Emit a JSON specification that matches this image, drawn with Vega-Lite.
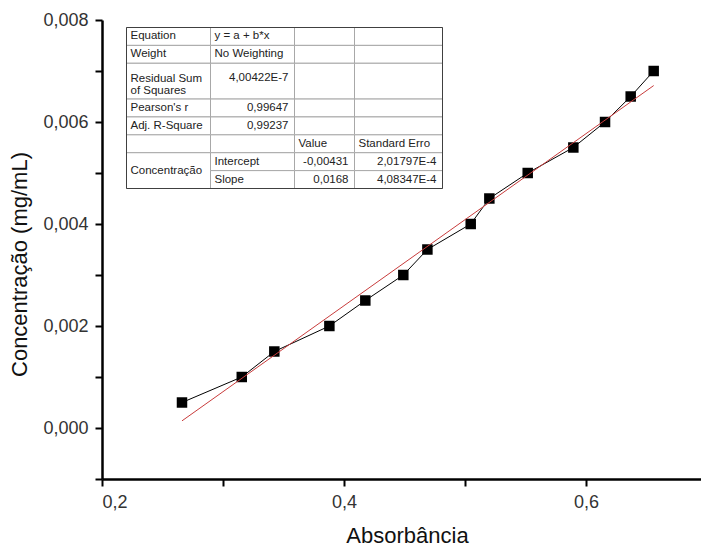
{
  "$schema": "https://vega.github.io/schema/vega-lite/v6.json",
  "width": 599,
  "height": 459,
  "autosize": {"type": "none"},
  "padding": {"left": 102, "top": 20, "right": 0, "bottom": 69},
  "background": "white",
  "config": {
    "view": {"stroke": null},
    "font": "Liberation Sans",
    "axis": {"grid": false}
  },
  "datasets": {
    "points": [
      {"absorbancia": 0.2661, "concentracao": 0.0005},
      {"absorbancia": 0.3155, "concentracao": 0.0010},
      {"absorbancia": 0.3424, "concentracao": 0.0015},
      {"absorbancia": 0.3879, "concentracao": 0.0020},
      {"absorbancia": 0.4176, "concentracao": 0.0025},
      {"absorbancia": 0.4490, "concentracao": 0.0030},
      {"absorbancia": 0.4689, "concentracao": 0.0035},
      {"absorbancia": 0.5047, "concentracao": 0.0040},
      {"absorbancia": 0.5201, "concentracao": 0.0045},
      {"absorbancia": 0.5518, "concentracao": 0.0050},
      {"absorbancia": 0.5895, "concentracao": 0.0055},
      {"absorbancia": 0.6157, "concentracao": 0.0060},
      {"absorbancia": 0.6369, "concentracao": 0.0065},
      {"absorbancia": 0.6559, "concentracao": 0.0070}
    ],
    "cells": [
      {"c0": 0, "c1": 1, "r0": 0, "r1": 1}, {"c0": 1, "c1": 2, "r0": 0, "r1": 1}, {"c0": 2, "c1": 3, "r0": 0, "r1": 1}, {"c0": 3, "c1": 4, "r0": 0, "r1": 1},
      {"c0": 0, "c1": 1, "r0": 1, "r1": 2}, {"c0": 1, "c1": 2, "r0": 1, "r1": 2}, {"c0": 2, "c1": 3, "r0": 1, "r1": 2}, {"c0": 3, "c1": 4, "r0": 1, "r1": 2},
      {"c0": 0, "c1": 1, "r0": 2, "r1": 4}, {"c0": 1, "c1": 2, "r0": 2, "r1": 4}, {"c0": 2, "c1": 3, "r0": 2, "r1": 4}, {"c0": 3, "c1": 4, "r0": 2, "r1": 4},
      {"c0": 0, "c1": 1, "r0": 4, "r1": 5}, {"c0": 1, "c1": 2, "r0": 4, "r1": 5}, {"c0": 2, "c1": 3, "r0": 4, "r1": 5}, {"c0": 3, "c1": 4, "r0": 4, "r1": 5},
      {"c0": 0, "c1": 1, "r0": 5, "r1": 6}, {"c0": 1, "c1": 2, "r0": 5, "r1": 6}, {"c0": 2, "c1": 3, "r0": 5, "r1": 6}, {"c0": 3, "c1": 4, "r0": 5, "r1": 6},
      {"c0": 0, "c1": 1, "r0": 6, "r1": 7}, {"c0": 1, "c1": 2, "r0": 6, "r1": 7}, {"c0": 2, "c1": 3, "r0": 6, "r1": 7}, {"c0": 3, "c1": 4, "r0": 6, "r1": 7},
      {"c0": 0, "c1": 1, "r0": 7, "r1": 9},
      {"c0": 1, "c1": 2, "r0": 7, "r1": 8}, {"c0": 2, "c1": 3, "r0": 7, "r1": 8}, {"c0": 3, "c1": 4, "r0": 7, "r1": 8},
      {"c0": 1, "c1": 2, "r0": 8, "r1": 9}, {"c0": 2, "c1": 3, "r0": 8, "r1": 9}, {"c0": 3, "c1": 4, "r0": 8, "r1": 9}
    ],
    "texts": [
      {"text": "Equation", "col": 0, "row": 0.5, "align": "left"},
      {"text": "y = a + b*x", "col": 1, "row": 0.5, "align": "left"},
      {"text": "Weight", "col": 0, "row": 1.5, "align": "left"},
      {"text": "No Weighting", "col": 1, "row": 1.5, "align": "left"},
      {"text": "Residual Sum", "col": 0, "row": 2.9, "align": "left"},
      {"text": "of Squares", "col": 0, "row": 3.55, "align": "left"},
      {"text": "4,00422E-7", "col": 1, "row": 2.83, "align": "right"},
      {"text": "Pearson's r", "col": 0, "row": 4.5, "align": "left"},
      {"text": "0,99647", "col": 1, "row": 4.5, "align": "right"},
      {"text": "Adj. R-Square", "col": 0, "row": 5.5, "align": "left"},
      {"text": "0,99237", "col": 1, "row": 5.5, "align": "right"},
      {"text": "Value", "col": 2, "row": 6.5, "align": "left"},
      {"text": "Standard Erro", "col": 3, "row": 6.5, "align": "left"},
      {"text": "Concentração", "col": 0, "row": 8, "align": "left"},
      {"text": "Intercept", "col": 1, "row": 7.5, "align": "left"},
      {"text": "-0,00431", "col": 2, "row": 7.5, "align": "right"},
      {"text": "2,01797E-4", "col": 3, "row": 7.5, "align": "right"},
      {"text": "Slope", "col": 1, "row": 8.5, "align": "left"},
      {"text": "0,0168", "col": 2, "row": 8.5, "align": "right"},
      {"text": "4,08347E-4", "col": 3, "row": 8.5, "align": "right"}
    ]
  },
  "layer": [
    {
      "data": {"name": "points"},
      "layer": [
        {
          "mark": {"type": "line", "color": "black", "strokeWidth": 1},
          "encoding": {
            "x": {
              "field": "absorbancia", "type": "quantitative",
              "scale": {"domain": [0.2, 0.695], "nice": false, "zero": false},
              "axis": {
                "values": [0.2, 0.3, 0.4, 0.5, 0.6],
                "labelExpr": "round(datum.value * 10) % 2 == 0 ? replace(format(datum.value, '.1f'), '.', ',') : ''",
                "tickSize": 7, "tickWidth": 2, "tickColor": "black",
                "domainColor": "black", "domainWidth": 2.5,
                "labelFontSize": 18, "labelColor": "#333", "labelPadding": 7,
                "title": "Absorbância", "titleFontSize": 22, "titleFontWeight": "normal",
                "titleColor": "#111", "titlePadding": 14, "titleX": 305,
                "encode": {"ticks": {"update": {"y2": {"signal": "round(datum.value * 10) % 2 == 0 ? 7 : 4"}}}}
              }
            },
            "y": {
              "field": "concentracao", "type": "quantitative",
              "scale": {"domain": [-0.001, 0.008], "nice": false, "zero": false},
              "axis": {
                "values": [-0.001, 0, 0.001, 0.002, 0.003, 0.004, 0.005, 0.006, 0.007, 0.008],
                "labelExpr": "round(datum.value * 1000) % 2 == 0 ? replace(format(datum.value, '.3f'), '.', ',') : ''",
                "tickSize": 7, "tickWidth": 2, "tickColor": "black",
                "domainColor": "black", "domainWidth": 2.5,
                "labelFontSize": 18, "labelColor": "#333", "labelPadding": 7,
                "title": "Concentração (mg/mL)", "titleFontSize": 22, "titleFontWeight": "normal",
                "titleColor": "#111", "titlePadding": 11, "titleY": 244,
                "encode": {"ticks": {"update": {"x2": {"signal": "round(datum.value * 1000) % 2 == 0 ? -7 : -4"}}}}
              }
            }
          }
        },
        {
          "mark": {"type": "point", "shape": "square", "filled": true, "size": 110, "color": "black", "opacity": 1},
          "encoding": {
            "x": {"field": "absorbancia", "type": "quantitative"},
            "y": {"field": "concentracao", "type": "quantitative"}
          }
        },
        {
          "transform": [{"regression": "concentracao", "on": "absorbancia"}],
          "mark": {"type": "line", "color": "#c83c3c", "strokeWidth": 1},
          "encoding": {
            "x": {"field": "absorbancia", "type": "quantitative"},
            "y": {"field": "concentracao", "type": "quantitative"}
          }
        }
      ]
    },
    {
      "data": {"name": "cells"},
      "mark": {"type": "rect", "fill": "white", "stroke": "#a8a8a8", "strokeWidth": 1},
      "encoding": {
        "x": {"field": "c0", "type": "quantitative", "scale": {"domain": [0, 1, 2, 3, 4], "range": [24.5, 108.5, 192.5, 252.5, 340.5]}, "axis": null},
        "x2": {"field": "c1"},
        "y": {"field": "r0", "type": "quantitative", "scale": {"domain": [0, 9], "range": [7.5, 168.5]}, "axis": null},
        "y2": {"field": "r1"}
      }
    },
    {
      "data": {"values": [{"c0": 0, "c1": 4, "r0": 0, "r1": 9}]},
      "mark": {"type": "rect", "fill": null, "stroke": "#404040", "strokeWidth": 1},
      "encoding": {
        "x": {"field": "c0", "type": "quantitative", "scale": {"domain": [0, 1, 2, 3, 4], "range": [24.5, 108.5, 192.5, 252.5, 340.5]}, "axis": null},
        "x2": {"field": "c1"},
        "y": {"field": "r0", "type": "quantitative", "scale": {"domain": [0, 9], "range": [7.5, 168.5]}, "axis": null},
        "y2": {"field": "r1"}
      }
    },
    {
      "data": {"name": "texts"},
      "transform": [{"filter": "datum.align == 'left'"}],
      "mark": {"type": "text", "align": "left", "baseline": "middle", "dx": 4, "fontSize": 11.5, "color": "#222"},
      "encoding": {
        "x": {"field": "col", "type": "quantitative", "scale": {"domain": [0, 1, 2, 3], "range": [24.5, 108.5, 192.5, 252.5]}, "axis": null},
        "y": {"field": "row", "type": "quantitative", "scale": {"domain": [0, 9], "range": [7.5, 168.5]}, "axis": null},
        "text": {"field": "text"}
      }
    },
    {
      "data": {"name": "texts"},
      "transform": [{"filter": "datum.align == 'right'"}],
      "mark": {"type": "text", "align": "right", "baseline": "middle", "dx": -6, "fontSize": 11.5, "color": "#222"},
      "encoding": {
        "x": {"field": "col", "type": "quantitative", "scale": {"domain": [0, 1, 2, 3], "range": [108.5, 192.5, 252.5, 340.5]}, "axis": null},
        "y": {"field": "row", "type": "quantitative", "scale": {"domain": [0, 9], "range": [7.5, 168.5]}, "axis": null},
        "text": {"field": "text"}
      }
    }
  ],
  "resolve": {"scale": {"x": "independent", "y": "independent"}}
}
